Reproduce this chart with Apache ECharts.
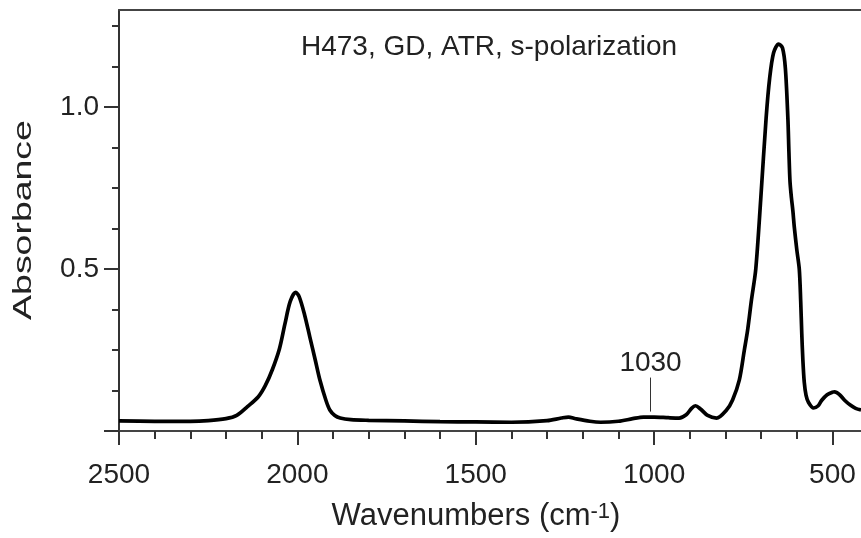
<!DOCTYPE html>
<html>
<head>
<meta charset="utf-8">
<script src="https://cdn.jsdelivr.net/npm/echarts@6/dist/echarts.min.js"></script>
<style>html,body{margin:0;padding:0;background:#fff;}#c{width:861px;height:538px;}</style>
</head>
<body>
<div id="c"></div>
<script>
// ---- data ----
const wavenumbers = [2500,2400,2300,2250,2200,2170,2140,2110,2090,2070,2050,2035,2020,2005,1995,1980,1965,1950,1937,1920,1909,1895,1880,1850,1800,1700,1600,1500,1400,1300,1260,1240,1220,1180,1150,1100,1060,1030,1000,960,930,910,895,884,870,850,825,797,780,761,747,738,727,715,701,686,676,665,651,640,632,625,622,619,615,611,607,600,593,589,586,583,579,574,567,553,540,530,515,500,494,480,466,450,435,420];
const absorbance  = [0.031,0.030,0.030,0.032,0.038,0.048,0.075,0.105,0.140,0.190,0.255,0.330,0.400,0.428,0.415,0.360,0.290,0.220,0.158,0.095,0.065,0.048,0.040,0.035,0.033,0.031,0.029,0.028,0.027,0.032,0.040,0.043,0.038,0.030,0.027,0.030,0.038,0.043,0.043,0.041,0.040,0.050,0.070,0.078,0.068,0.048,0.040,0.065,0.096,0.158,0.250,0.310,0.405,0.500,0.717,0.966,1.090,1.168,1.195,1.183,1.120,0.966,0.860,0.770,0.720,0.680,0.630,0.560,0.500,0.400,0.300,0.220,0.150,0.110,0.088,0.071,0.078,0.095,0.112,0.120,0.121,0.112,0.095,0.080,0.070,0.065];
const xMajorTicks = [500,1000,1500,2000,2500];
const xMinorTicks = [600,700,800,900,1100,1200,1300,1400,1600,1700,1800,1900,2100,2200,2300,2400];
const yMajorTicks = [0,0.5,1.0];
const yTickLabels = [0.5,1.0];
const yMinorTicks = [0.125,0.25,0.375,0.625,0.75,0.875,1.125,1.25];
const annotX = [1010];
const annotY = [0.06,0.165];
const annotLabel = ['1030'];
const titleText = 'H473, GD, ATR, s-polarization';
const xName = 'Wavenumbers (cm{sup|-1})';
const yName = 'Absorbance';

const X_MIN = 420, X_MAX = 2500, Y_MIN = 0, Y_MAX = 1.3;
const FONT = 'Liberation Sans, Arial, sans-serif';
const TXT = '#222';

const chart = echarts.init(document.getElementById('c'), null, {renderer:'canvas'});
const baseX = {type:'value', min:X_MIN, max:X_MAX, inverse:true, position:'bottom', splitLine:{show:false}};
const baseY = {type:'value', min:Y_MIN, max:Y_MAX, position:'left', splitLine:{show:false}};
chart.setOption({
  animation:false,
  backgroundColor:'#fff',
  title:{text:titleText, left:301, top:33, padding:0, textStyle:{fontFamily:FONT, fontSize:28, fontWeight:'normal', color:TXT}},
  grid:{left:119, right:0, top:10, bottom:107, containLabel:false, outerBoundsMode:'none'},
  xAxis:[
    Object.assign({}, baseX, {
      name:xName, nameLocation:'middle', nameGap:70,
      nameTextStyle:{fontFamily:FONT, fontSize:31, color:TXT, padding:[0,28,0,0],
        rich:{sup:{fontFamily:FONT, fontSize:22, color:TXT, verticalAlign:'top', lineHeight:22, padding:[0,0,14,0]}}},
      axisLine:{show:true, lineStyle:{color:'#444', width:2}},
      axisTick:{show:true, length:14, customValues:xMajorTicks, lineStyle:{color:'#333', width:2}},
      axisLabel:{show:true, customValues:xMajorTicks, margin:30, fontFamily:FONT, fontSize:28, color:TXT,
        formatter:(v)=>String(v)}
    }),
    Object.assign({}, baseX, {
      axisLine:{show:false},
      axisTick:{show:true, length:8, customValues:xMinorTicks, lineStyle:{color:'#333', width:2}},
      axisLabel:{show:false}
    }),
    Object.assign({}, baseX, {
      position:'top',
      axisLine:{show:true, lineStyle:{color:'#444', width:2}},
      axisTick:{show:false}, axisLabel:{show:false}
    })
  ],
  yAxis:[
    Object.assign({}, baseY, {
      axisLine:{show:true, lineStyle:{color:'#333', width:2}},
      axisTick:{show:true, length:15, customValues:yMajorTicks, lineStyle:{color:'#333', width:2}},
      axisLabel:{show:true, customValues:yTickLabels, margin:20, fontFamily:FONT, fontSize:28, color:TXT,
        formatter:(v)=>v.toFixed(1)}
    }),
    Object.assign({}, baseY, {
      axisLine:{show:false},
      axisTick:{show:true, length:7, customValues:yMinorTicks, lineStyle:{color:'#333', width:2}},
      axisLabel:{show:false}
    })
  ],
  graphic:[{
    type:'text', x:24, y:220, rotation:Math.PI/2, scaleX:1.44,
    style:{text:yName, font:'26px ' + FONT, fill:TXT, textAlign:'center', textVerticalAlign:'middle'}
  }],
  series:[{
    type:'line', xAxisIndex:0, yAxisIndex:0,
    data:wavenumbers.map((w,i)=>[w, absorbance[i]]),
    showSymbol:false, symbol:'none', smooth:0.3,
    lineStyle:{color:'#000', width:3.7},
    markLine:{
      silent:true, symbol:['none','none'],
      lineStyle:{color:'#333', width:1, type:'solid'},
      label:{show:true, position:'end', distance:0, formatter:annotLabel[0], fontFamily:FONT, fontSize:28, color:TXT},
      data:[[{coord:[annotX[0], annotY[0]]},{coord:[annotX[0], annotY[1]]}]]
    }
  }]
});
</script>
</body>
</html>
